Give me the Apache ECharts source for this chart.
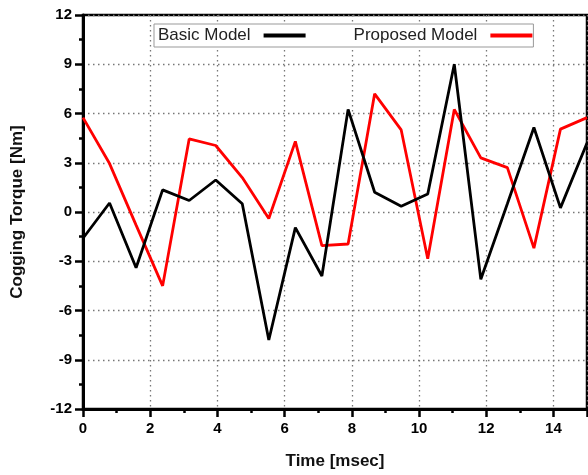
<!DOCTYPE html>
<html>
<head>
<meta charset="utf-8">
<script src="https://cdn.jsdelivr.net/npm/echarts@6/dist/echarts.min.js"></script>
<style>
html,body{margin:0;padding:0;background:#fff;}
#chart{width:588px;height:475px;}
</style>
</head>
<body>
<div id="chart"></div>
<script>
var timeMs = [0, 0.79, 1.58, 2.37, 3.16, 3.95, 4.74, 5.53, 6.32, 7.11, 7.89, 8.68, 9.47, 10.26, 11.05, 11.84, 12.63, 13.42, 14.21, 15];
var basicModel = [-1.6, 0.55, -3.4, 1.35, 0.7, 1.95, 0.5, -7.8, -0.95, -3.9, 6.25, 1.2, 0.35, 1.1, 9.0, -4.1, 0.5, 5.15, 0.25, 4.2];
var proposedModel = [5.75, 2.95, -0.8, -4.5, 4.45, 4.05, 2.1, -0.4, 4.3, -2.05, -1.95, 7.2, 5.0, -2.85, 6.25, 3.3, 2.7, -2.2, 5.05, 5.75];
var seriesNames = ['Basic Model', 'Proposed Model'];
var xTitle = 'Time [msec]';
var yTitle = 'Cogging Torque [Nm]';

function pairs(xs, ys) { return xs.map(function (x, i) { return [x, ys[i]]; }); }

var chart = echarts.init(document.getElementById('chart'), null, {renderer: 'canvas'});
var font = 'Liberation Sans, Arial, sans-serif';
chart.setOption({
  animation: false,
  backgroundColor: '#fff',
  grid: {left: 83, top: 15, right: 1, bottom: 64, show: true, borderColor: '#000', borderWidth: 2.5, backgroundColor: 'transparent'},
  legend: {
    left: 154, top: 24,
    padding: [2, 1, 2, 4],
    borderColor: '#999', borderWidth: 1, backgroundColor: '#fff',
    align: 'right',
    itemWidth: 42, itemHeight: 4, itemGap: 48,
    icon: 'rect',
    textStyle: {fontFamily: font, fontSize: 17, color: '#222', padding: [0, 8, 0, 0], lineHeight: 19},
    data: seriesNames
  },
  xAxis: {
    type: 'value', min: 0, max: 15, interval: 2,
    name: xTitle, nameLocation: 'middle', nameGap: 44,
    nameTextStyle: {fontFamily: font, fontSize: 17, fontWeight: 'bold', color: '#111'},
    axisLine: {show: true, onZero: false, lineStyle: {color: '#000', width: 3}},
    axisTick: {show: true, inside: false, length: 8, lineStyle: {color: '#000', width: 2.5}},
    minorTick: {show: true, splitNumber: 2, length: 4, lineStyle: {color: '#000', width: 2.5}},
    axisLabel: {margin: 12, fontFamily: font, fontSize: 15, fontWeight: 'bold', color: '#000', showMaxLabel: false},
    splitLine: {show: true, lineStyle: {color: '#777', width: 1.3, type: [1.5, 3.5]}}
  },
  yAxis: {
    type: 'value', min: -12, max: 12, interval: 3,
    name: yTitle, nameLocation: 'middle', nameGap: 57,
    nameTextStyle: {fontFamily: font, fontSize: 17, fontWeight: 'bold', color: '#111'},
    axisLine: {show: true, onZero: false, lineStyle: {color: '#000', width: 3}},
    axisTick: {show: true, inside: false, length: 8, lineStyle: {color: '#000', width: 2.5}},
    minorTick: {show: true, splitNumber: 2, length: 4, lineStyle: {color: '#000', width: 2.5}},
    axisLabel: {margin: 11, fontFamily: font, fontSize: 15, fontWeight: 'bold', color: '#000'},
    splitLine: {show: true, lineStyle: {color: '#777', width: 1.3, type: [1.5, 3.5]}}
  },
  series: [
    {name: seriesNames[0], type: 'line', data: pairs(timeMs, basicModel), showSymbol: false, symbol: 'none',
     lineStyle: {color: '#000', width: 2.8}, itemStyle: {color: '#000'}, z: 3},
    {name: seriesNames[1], type: 'line', data: pairs(timeMs, proposedModel), showSymbol: false, symbol: 'none',
     lineStyle: {color: '#f00', width: 2.8}, itemStyle: {color: '#f00'}, z: 2}
  ]
});
</script>
</body>
</html>
